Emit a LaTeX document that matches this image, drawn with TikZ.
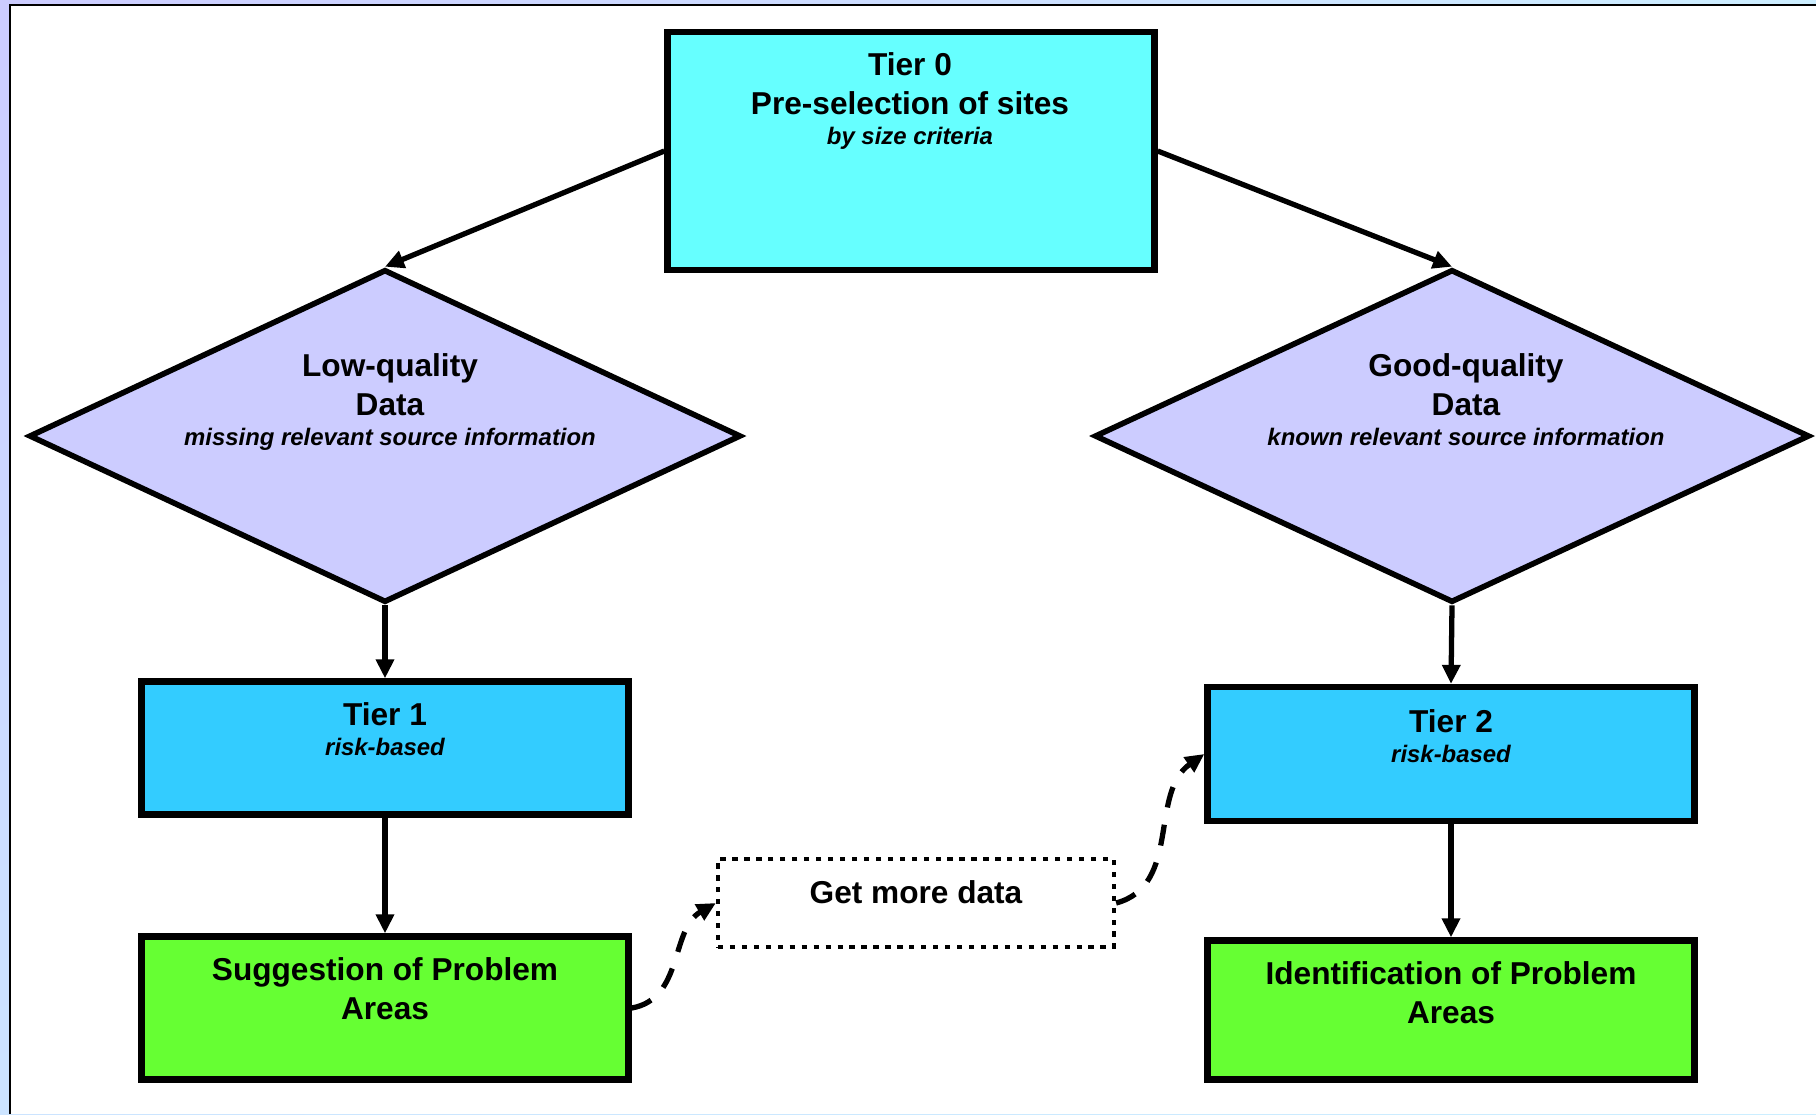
\documentclass[tikz,border=0pt]{standalone}
\usepackage{fontspec}
\setmainfont{Liberation Sans}
\usepackage{tikz}
\usepackage{xcolor}
\usetikzlibrary{arrows.meta,positioning,shapes.geometric,shadings}
\definecolor{ink}{HTML}{000000}
\definecolor{selcyan}{HTML}{66FFFF}
\definecolor{qualfill}{HTML}{CCCCFF}
\definecolor{tierblue}{HTML}{33CCFF}
\definecolor{areagreen}{HTML}{66FF33}
\definecolor{framelav}{HTML}{CCCCFF}
\definecolor{frameblue}{HTML}{CCEEFF}
\newcommand{\tiernote}[1]{{\itshape\fontsize{6.8}{8}\selectfont #1}}
\tikzset{
  selbox/.style={draw=ink,fill=selcyan,line width=1.8pt,inner sep=0pt,
                 minimum width=4.87cm,minimum height=2.38cm},
  qualdiamond/.style={diamond,draw=ink,fill=qualfill,line width=1.6pt,
                      inner sep=0pt,minimum height=3.33cm},
  tierbox/.style={draw=ink,fill=tierblue,line width=1.8pt,inner sep=0pt,
                  minimum width=4.87cm,minimum height=1.34cm},
  areabox/.style={draw=ink,fill=areagreen,line width=1.8pt,inner sep=0pt,
                  minimum width=4.87cm},
  ghostbox/.style={draw=ink,fill=white,line width=1.2pt,
                   dash pattern=on 1.5pt off 1.9pt,inner sep=0pt,
                   minimum width=3.96cm,minimum height=0.88cm,
                   font=\bfseries\fontsize{9}{11.1}\selectfont,text depth=6.2pt},
  boxtext/.style={align=center,inner sep=0pt,anchor=base,
                  font=\bfseries\fontsize{9}{11.1}\selectfont},
  flowarr/.style={-{Triangle[length=5.4pt,width=5pt]},line width=1.5pt,
                  draw=ink},
  dasharr/.style={-{Triangle[length=5.4pt,width=5pt]},line width=1.5pt,
                  draw=ink,dash pattern=on 6pt off 5pt}
}
\begin{document}
\begin{tikzpicture}[x=1cm,y=1cm]
    \path[use as bounding box] (0,0) rectangle (18.16,-11.14);
    \shade[upper left=framelav,upper right=frameblue,
           lower left=frameblue!70!framelav,lower right=frameblue]
      (0,0) rectangle (18.16,-11.14);
    \fill[white] (0.10,-0.05) rectangle (18.16,-11.14);
    \draw[ink,line width=0.6pt] (0.10,-11.14) -- (0.10,-0.05) -- (18.16,-0.05);

    % text nodes sit on the baseline of their last line
    \node[selbox] (tier0) at (9.11,-1.51) {};
    \node[boxtext] (tier0txt) at (9.10,-1.44)
      {Tier 0\\Pre-selection of sites\\[-2.6pt]\tiernote{by size criteria}};

    \node[qualdiamond,minimum width=7.12cm] (lowdata) at (3.85,-4.36) {};
    \node[boxtext] (lowdatatxt) at (3.90,-4.45)
      {Low-quality\\Data\\[-2.6pt]\tiernote{missing relevant source information}};
    \node[qualdiamond,minimum width=7.15cm] (gooddata) at (14.52,-4.36) {};
    \node[boxtext] (gooddatatxt) at (14.66,-4.45)
      {Good-quality\\Data\\[-2.6pt]\tiernote{known relevant source information}};

    \node[tierbox,minimum height=1.33cm] (tier1) at (3.85,-7.48) {};
    \node[boxtext] (tier1txt) at (3.85,-7.55)
      {Tier 1\\[-2.6pt]\tiernote{risk-based}};
    \node[tierbox] (tier2) at (14.51,-7.54) {};
    \node[boxtext] (tier2txt) at (14.51,-7.62)
      {Tier 2\\[-2.6pt]\tiernote{risk-based}};

    \node[areabox,minimum height=1.43cm] (suggest) at (3.85,-10.08) {};
    \node[boxtext] (suggesttxt) at (3.85,-10.19)
      {Suggestion of Problem\\Areas};
    \node[areabox,minimum height=1.39cm] (ident) at (14.51,-10.10) {};
    \node[boxtext] (identtxt) at (14.51,-10.23)
      {Identification of Problem\\Areas};

    \node[ghostbox] (moredata) at (9.16,-9.03) {Get more data};

    \draw[flowarr] (tier0.west) -- (lowdata.north);
    \draw[flowarr] (tier0.east) -- (gooddata.north);
    \draw[flowarr] (lowdata.south) -- (tier1.north);
    \draw[flowarr] (tier1.south) -- (suggest.north);
    \draw[flowarr] (gooddata.south) -- (tier2.north);
    \draw[flowarr] (tier2.south) -- (ident.north);
    \draw[dasharr] (suggest.east) to[out=10,in=210] (moredata.west);
    \draw[dasharr] (moredata.east) to[out=15,in=215] (tier2.west);
  \end{tikzpicture}
\end{document}
